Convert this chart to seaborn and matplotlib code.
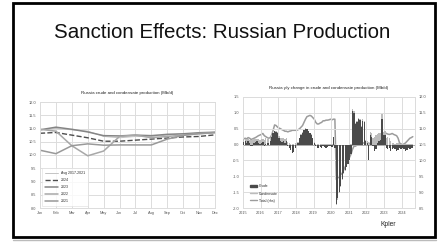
import numpy as np
import pandas as pd
import matplotlib
matplotlib.use("Agg")
import matplotlib.pyplot as plt
import seaborn as sns
from matplotlib.patches import Rectangle, Patch
from matplotlib.lines import Line2D

# left chart: monthly production by year (mb/d)
months = ["Jan", "Feb", "Mar", "Apr", "May", "Jun", "Jul", "Aug", "Sep", "Oct", "Nov", "Dec"]
avg_2017_2021 = [10.95, 11.00, 10.95, 10.90, 10.70, 10.65, 10.70, 10.70, 10.75, 10.80, 10.82, 10.85]
prod_2024 = [10.82, 10.85, 10.75, 10.65, 10.52, 10.52, 10.56, 10.60, 10.64, 10.68, 10.70, 10.76]
prod_2023 = [10.95, 11.05, 10.97, 10.87, 10.73, 10.72, 10.75, 10.73, 10.78, 10.80, 10.84, 10.86]
prod_2022 = [10.97, 10.90, 10.35, 9.97, 10.15, 10.70, 10.75, 10.65, 10.70, 10.75, 10.80, 10.84]
prod_2021 = [10.18, 10.05, 10.35, 10.42, 10.37, 10.38, 10.38, 10.38, 10.60, 10.74, 10.81, 10.85]

# right chart: y/y change (mb/d), Jan 2015 .. Aug 2024
crude_yy = [
    0.08, 0.10, 0.06, 0.10, 0.05, -0.05, -0.06, 0.04, 0.08, 0.10, 0.06, 0.03,
    0.05, 0.08, -0.06, 0.02, 0.04, 0.06, 0.10, 0.25, 0.35, 0.42, 0.40, 0.35,
    0.20, 0.10, 0.08, 0.12, 0.05, 0.10, -0.05, -0.10, -0.18, -0.25, -0.22, -0.10,
    -0.02, 0.05, 0.20, 0.30, 0.38, 0.45, 0.50, 0.48, 0.42, 0.35, 0.30, 0.20,
    0.05, -0.05, -0.10, -0.12, -0.08, -0.10, -0.06, -0.08, -0.10, -0.08, -0.06, -0.05,
    -0.08, 0.23, -0.10, -1.87, -1.70, -1.50, -1.30, -1.10, -0.90, -0.80, -0.70, -0.60,
    -0.50, -0.30, 1.07, 1.00, 0.65, 0.70, 0.80, 0.78, 0.55, 0.75, 0.70, 0.10,
    0.05, -0.50, 0.30, 0.25, -0.05, -0.20, -0.15, 0.05, 0.10, 0.15, 0.80, 0.30,
    0.30, -0.10, -0.15, -0.10, -0.20, -0.15, -0.10, -0.15, -0.20, -0.18, -0.12, -0.15,
    -0.10, -0.15, -0.20, -0.18, -0.12, -0.15, -0.10, -0.12,
]
condensate_yy = [
    0.10, 0.08, 0.12, 0.08, 0.10, 0.15, 0.14, 0.12, 0.10, 0.08, 0.10, 0.12,
    0.12, 0.10, 0.15, 0.18, 0.15, 0.12, 0.10, 0.05, 0.03, 0.02, 0.03, 0.05,
    0.08, 0.10, 0.12, 0.08, 0.12, 0.10, 0.08, 0.05, 0.03, 0.02, 0.03, 0.04,
    0.03, 0.02, 0.02, 0.03, 0.02, 0.02, 0.03, 0.02, 0.02, 0.03, 0.02, 0.02,
    0.02, 0.03, 0.02, 0.02, 0.01, 0.02, 0.02, 0.01, 0.02, 0.02, 0.01, 0.02,
    0.01, 0.02, 0.01, -0.05, -0.05, -0.04, -0.04, -0.03, -0.03, -0.02, -0.02, -0.02,
    0.00, 0.02, 0.05, 0.05, 0.04, 0.05, 0.04, 0.03, 0.04, 0.05, 0.04, 0.05,
    0.05, 0.08, 0.10, 0.12, 0.20, 0.25, 0.30, 0.28, 0.25, 0.22, 0.15, 0.10,
    0.12, 0.20, 0.25, 0.20, 0.10, 0.05, 0.04, 0.03, 0.05, 0.04, 0.03, 0.02,
    0.03, 0.02, 0.03, 0.02, 0.03, 0.02, 0.03, 0.02,
]
total_prod = [
    10.68, 10.70, 10.68, 10.72, 10.70, 10.66, 10.68, 10.70, 10.72, 10.75, 10.78, 10.80,
    10.82, 10.85, 10.78, 10.75, 10.72, 10.70, 10.72, 10.80, 10.95, 11.12, 11.10, 11.05,
    11.02, 11.00, 10.97, 10.95, 10.92, 10.92, 10.90, 10.92, 10.93, 10.95, 10.95, 10.95,
    10.95, 10.97, 11.00, 11.05, 11.10, 11.20, 11.30, 11.38, 11.40, 11.42, 11.40, 11.35,
    11.30, 11.20, 11.15, 11.15, 11.18, 11.20, 11.25, 11.25, 11.27, 11.27, 11.28, 11.30,
    11.28, 11.30, 11.30, 9.40, 9.45, 9.50, 9.55, 9.60, 9.70, 9.80, 9.90, 10.00,
    10.10, 10.20, 10.35, 10.45, 10.45, 10.48, 10.50, 10.50, 10.52, 10.55, 10.55, 10.55,
    10.50, 10.50, 10.55, 10.60, 10.60, 10.62, 10.65, 10.70, 10.72, 10.75, 10.80, 10.85,
    10.88, 10.85, 10.83, 10.82, 10.83, 10.85, 10.82, 10.80, 10.78, 10.70, 10.55, 10.52,
    10.50, 10.52, 10.55, 10.60, 10.65, 10.70, 10.72, 10.75,
]
year_ticks = list(range(2015, 2025))

GRID = "#dcdcdc"
sns.set_theme(style="white")
plt.rcParams["font.family"] = ["Liberation Sans", "DejaVu Sans"]

fig = plt.figure(figsize=(4.43, 2.42), dpi=100)

# slide frame plus the faint shadow line under it
fig.patches.append(Rectangle((13 / 443, 1 - 237 / 242), 422 / 443, 234 / 242,
                             transform=fig.transFigure, fill=False,
                             edgecolor="black", linewidth=2.0))
fig.add_artist(Line2D([13 / 443, 436 / 443], [1 - 239.5 / 242] * 2,
                      transform=fig.transFigure, color="#bbbbbb", linewidth=1.0))
fig.text(222 / 443, 1 - 33 / 242, "Sanction Effects: Russian Production",
         ha="center", va="center", fontsize=14.8, color="#111111")

# ---- left chart
ax1 = fig.add_axes([40 / 443, 1 - 208 / 242, 175 / 443, 106 / 242])
x_m = np.arange(12)
series = [
    ("Avg 2017-2021", avg_2017_2021, "#c4c4c4", "-", 0.7),
    ("2024", prod_2024, "#4d4d4d", "--", 1.0),
    ("2023", prod_2023, "#858585", "-", 1.1),
    ("2022", prod_2022, "#a8a8a8", "-", 1.1),
    ("2021", prod_2021, "#999999", "-", 1.1),
]
for name, vals, col, ls, lw in series:
    sns.lineplot(x=x_m, y=vals, ax=ax1, color=col, linestyle=ls, linewidth=lw, label=name)
ax1.set_xlim(0, 11)
ax1.set_ylim(8.0, 12.0)
ax1.set_xticks(x_m)
ax1.set_xticklabels(months)
ax1.set_yticks(np.arange(8.0, 12.01, 0.5))
ax1.set_yticklabels([f"{v:.1f}" for v in np.arange(8.0, 12.01, 0.5)])
ax1.grid(True, color=GRID, linewidth=0.7)
ax1.tick_params(labelsize=2.8, colors="#555555", length=0, pad=2.5)
for s in ax1.spines.values():
    s.set_color(GRID)
    s.set_linewidth(0.7)
ax1.set_title("Russia crude and condensate production (Mb/d)", fontsize=3.2,
              color="#222222", pad=6)
leg1 = ax1.legend(loc="lower left", fontsize=2.5, frameon=True, handlelength=4,
                  borderpad=0.8, labelspacing=0.9)
leg1.get_frame().set_edgecolor(GRID)
leg1.get_frame().set_linewidth(0.5)

# ---- right chart
ax2 = fig.add_axes([243 / 443, 1 - 208 / 242, 172 / 443, 111 / 242])
ax3 = ax2.twinx()
ax3.set_zorder(ax2.get_zorder() - 1)
ax2.patch.set_visible(False)

t = 2015 + np.arange(len(crude_yy)) / 12 + 1 / 24
crude = np.array(crude_yy)
cond = np.array(condensate_yy)
base = np.where(np.sign(cond) == np.sign(crude), crude, 0)
ax2.bar(t, crude, width=1 / 12 * 0.9, color="#4a4a4a", linewidth=0, zorder=3)
ax2.bar(t, cond, bottom=base, width=1 / 12 * 0.9, color="#bcbcbc", linewidth=0, zorder=3)
ax2.axhline(0, color="#999999", linewidth=0.5, zorder=2)
sns.lineplot(x=t, y=total_prod, ax=ax3, color="#9c9c9c", linewidth=1.1)

ax2.set_xlim(2015, 2024.75)
ax2.set_ylim(-2.0, 1.5)
ax3.set_ylim(8.5, 12.0)
ax2.set_xticks(year_ticks)
ax2.set_xticklabels([str(y) for y in year_ticks])
ax2.set_yticks(np.arange(-2.0, 1.51, 0.5))
ax2.set_yticklabels([f"{v:.1f}" for v in np.arange(-2.0, 1.51, 0.5)])
ax3.set_yticks(np.arange(8.5, 12.01, 0.5))
ax3.set_yticklabels([f"{v:.1f}" for v in np.arange(8.5, 12.01, 0.5)])
ax2.grid(True, color=GRID, linewidth=0.7, zorder=0)
ax2.set_axisbelow(True)
for a in (ax2, ax3):
    a.tick_params(labelsize=2.8, colors="#555555", length=0, pad=2.5)
    for s in a.spines.values():
        s.set_color(GRID)
        s.set_linewidth(0.7)
ax2.set_title("Russia y/y change in crude and condensate production (Mb/d)", fontsize=3.2,
              color="#222222", pad=6)
handles = [Patch(color="#4a4a4a"), Line2D([], [], color="#bcbcbc", linewidth=1.0),
           Line2D([], [], color="#9c9c9c", linewidth=1.0)]
leg2 = ax2.legend(handles, ["Crude", "Condensate", "Total (rhs)"], loc="lower left",
                  fontsize=2.5, frameon=False, handlelength=2, labelspacing=0.9,
                  bbox_to_anchor=(0.02, 0.02))

fig.text(388 / 443, 1 - 224 / 242, "Kpler", ha="center", va="center", fontsize=4.8,
         color="#222222")

fig.savefig("out.png", dpi=100)
